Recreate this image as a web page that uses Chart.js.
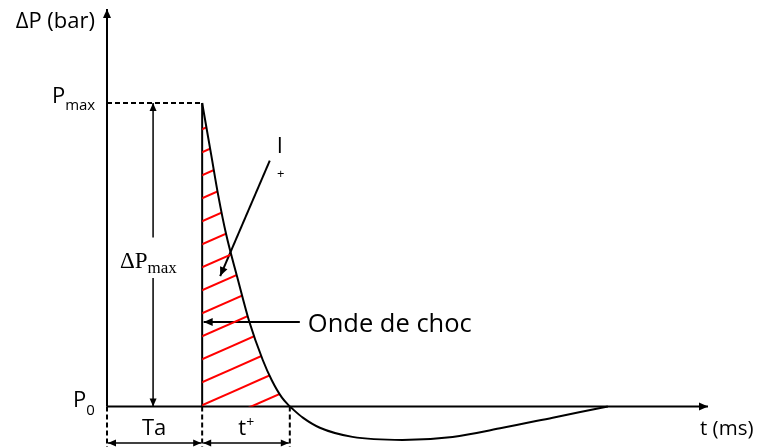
<!DOCTYPE html>
<html>
<head>
<meta charset="utf-8">
<script src="https://cdn.jsdelivr.net/npm/chart.js@4/dist/chart.umd.min.js"></script>
<style>
  html, body { margin: 0; padding: 0; background: #fff; }
  canvas { display: block; }
</style>
</head>
<body>
<canvas id="blast" width="761" height="447"></canvas>
<script>
// key times / pressures of the blast wave (arbitrary units)
const T_A = 19;        // arrival time Ta
const T_POS = 36.5;    // end of positive phase (Ta + t+)
const P_MAX = 3;       // peak overpressure
const T_AXIS_END = 120;
const P_AXIS_TOP = 3.93;
const P_BELOW = -0.4;

// overpressure curve (Friedlander-like shape), positive then negative phase
const tPositive = [19, 20.8, 22.2, 23.8, 26, 28.4, 31.1, 32.9, 34.9, 36.5];
const pPositive = [3, 2.49, 2.09, 1.7, 1.28, 0.84, 0.46, 0.26, 0.09, 0];
const tNegative = [36.5, 39.1, 42.5, 49, 59, 69, 79, 89, 100];
const pNegative = [0, -0.11, -0.21, -0.3, -0.33, -0.3, -0.21, -0.11, 0];

// red hatching for the positive impulse I+
const makeHatch = () => {
	const w = 52, h = 23, c = document.createElement('canvas');
	c.width = w; c.height = h;
	const g = c.getContext('2d');
	g.strokeStyle = '#ff0000';
	g.lineWidth = 2;
	for (let k = -1; k <= 1; k++) {
		const y0 = 11.7 + k * h;
		g.beginPath();
		g.moveTo(-4, y0 + 4 * h / w);
		g.lineTo(w + 4, y0 - (w + 4) * h / w);
		g.stroke();
	}
	return document.getElementById('blast').getContext('2d').createPattern(c, 'repeat');
};

const pts = (xs, ys) => xs.map((x, i) => ({ x: x, y: ys[i] }));
const seg = (x1, y1, x2, y2) => [{ x: x1, y: y1 }, { x: x2, y: y2 }];

const black = '#000';
const dash = [5, 3];
const yArrow = -0.36;
const xDp = 9.2;
const yChoc = 0.835;

const datasets = [
	{ data: pts(tPositive, pPositive), borderColor: black, borderWidth: 2, cubicInterpolationMode: 'monotone',
		fill: 'origin', backgroundColor: makeHatch() },
	{ data: pts(tNegative, pNegative), borderColor: black, borderWidth: 2, cubicInterpolationMode: 'monotone' },
	{ data: seg(T_A, 0, T_A, P_MAX), borderColor: black, borderWidth: 2 },
	{ data: seg(0, 0, T_AXIS_END, 0), borderColor: black, borderWidth: 2, arrowEnd: true, head: [9, 4] },
	{ data: seg(0, 0, 0, P_AXIS_TOP), borderColor: black, borderWidth: 2, arrowEnd: true, head: [9, 4] },
	{ data: seg(0, P_MAX, T_A, P_MAX), borderColor: black, borderWidth: 2, borderDash: dash },
	{ data: seg(0, 0, 0, P_BELOW), borderColor: black, borderWidth: 2, borderDash: dash },
	{ data: seg(T_A, 0, T_A, P_BELOW), borderColor: black, borderWidth: 2, borderDash: dash },
	{ data: seg(T_POS, 0, T_POS, P_BELOW), borderColor: black, borderWidth: 2, borderDash: dash },
	{ data: seg(0.2, yArrow, T_A - 0.2, yArrow), borderColor: black, borderWidth: 1.5, arrowEnd: true, arrowStart: true, head: [8, 3.5] },
	{ data: seg(T_A + 0.2, yArrow, T_POS - 0.2, yArrow), borderColor: black, borderWidth: 1.5, arrowEnd: true, arrowStart: true, head: [8, 3.5] },
	{ data: seg(xDp, 1.67, xDp, P_MAX), borderColor: black, borderWidth: 1.5, arrowEnd: true, head: [8, 3.5] },
	{ data: seg(xDp, 1.27, xDp, 0), borderColor: black, borderWidth: 1.5, arrowEnd: true, head: [8, 3.5] },
	{ data: seg(32.5, 2.43, 22.6, 1.29), borderColor: black, borderWidth: 2, arrowEnd: true, head: [9, 4] },
	{ data: seg(38.5, yChoc, 19.3, yChoc), borderColor: black, borderWidth: 2, arrowEnd: true, head: [9, 4] }
];

const sans = '"Open Sans", Lato, sans-serif';
const serif = '"Liberation Serif", "DejaVu Serif", serif';

// text labels: anchor in data units, parts drawn one after another
const labels = [
	{ x: -2.4, y: 3.742, align: 'right', parts: [['ΔP (bar)', '22px ' + sans, 0]] },
	{ x: -11, y: 3.0, align: 'left', parts: [['P', '22px ' + sans, 0], ['max', '15px ' + sans, 7]] },
	{ x: -6.8, y: 0, align: 'left', parts: [['P', '22px ' + sans, 0], ['0', '15px ' + sans, 8]] },
	{ x: 2.6, y: 1.37, align: 'left', parts: [['ΔP', '23px ' + serif, 0], ['max', '17px ' + serif, 5]] },
	{ x: 34.5, y: 2.506, align: 'center', parts: [['I', '22px ' + sans, 0]] },
	{ x: 34.7, y: 2.26, align: 'center', parts: [['+', '13px ' + sans, 0]] },
	{ x: 40.1, y: 0.736, align: 'left', parts: [['Onde de choc', '25.5px ' + sans, 0]] },
	{ x: 9.4, y: -0.28, align: 'center', parts: [['Ta', '22px ' + sans, 0]] },
	{ x: 27.8, y: -0.28, align: 'center', parts: [['t', '22px ' + sans, 0], ['+', '14px ' + sans, -8]] },
	{ x: 118.4, y: -0.28, align: 'left', parts: [['t (ms)', '20.5px ' + sans, 0]] }
];

const arrowHeads = {
	id: 'arrowHeads',
	afterDatasetsDraw(chart) {
		const ctx = chart.ctx;
		chart.data.datasets.forEach((ds, i) => {
			const p = chart.getDatasetMeta(i).data;
			const head = (tip, from) => {
				const a = Math.atan2(tip.y - from.y, tip.x - from.x);
				const [len, half] = ds.head;
				ctx.save();
				ctx.translate(tip.x, tip.y);
				ctx.rotate(a);
				ctx.beginPath();
				ctx.moveTo(0, 0);
				ctx.lineTo(-len, -half);
				ctx.lineTo(-len, half);
				ctx.closePath();
				ctx.fillStyle = ds.borderColor;
				ctx.fill();
				ctx.restore();
			};
			if (ds.arrowEnd) head(p[p.length - 1], p[p.length - 2]);
			if (ds.arrowStart) head(p[0], p[1]);
		});
	}
};

const textLabels = {
	id: 'textLabels',
	afterDraw(chart) {
		const ctx = chart.ctx, xs = chart.scales.x, ys = chart.scales.y;
		ctx.save();
		ctx.fillStyle = '#000';
		ctx.textBaseline = 'alphabetic';
		ctx.textAlign = 'left';
		labels.forEach(l => {
			let total = 0;
			l.parts.forEach(([t, f]) => { ctx.font = f; total += ctx.measureText(t).width; });
			let x = xs.getPixelForValue(l.x);
			const y = ys.getPixelForValue(l.y);
			if (l.align === 'right') x -= total;
			if (l.align === 'center') x -= total / 2;
			l.parts.forEach(([t, f, dy]) => {
				ctx.font = f;
				ctx.fillText(t, x, y + dy);
				x += ctx.measureText(t).width;
			});
		});
		ctx.restore();
	}
};

new Chart(document.getElementById('blast'), {
	type: 'line',
	data: { datasets: datasets },
	options: {
		responsive: false,
		animation: false,
		layout: { padding: { left: 107, right: 53, top: 12, bottom: 0 } },
		datasets: { line: { pointRadius: 0, clip: false, tension: 0, fill: false } },
		scales: {
			x: { type: 'linear', min: 0, max: T_AXIS_END, display: false },
			y: { type: 'linear', min: P_BELOW, max: 3.9, display: false }
		},
		plugins: { legend: { display: false }, tooltip: { enabled: false } }
	},
	plugins: [arrowHeads, textLabels]
});
</script>
</body>
</html>
